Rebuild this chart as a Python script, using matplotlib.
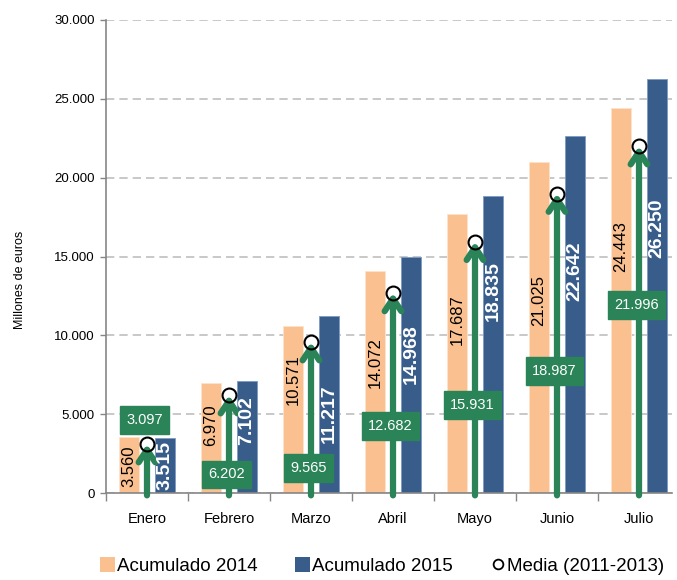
import matplotlib
matplotlib.use("Agg")
import matplotlib.pyplot as plt
from matplotlib.lines import Line2D
from matplotlib.patches import Patch
from matplotlib.ticker import FuncFormatter, FixedLocator
import numpy as np

plt.rcParams['font.family'] = ['Liberation Sans', 'DejaVu Sans']

months = ["Enero", "Febrero", "Marzo", "Abril", "Mayo", "Junio", "Julio"]
acum_2014 = [3560, 6970, 10571, 14072, 17687, 21025, 24443]
acum_2015 = [3515, 7102, 11217, 14968, 18835, 22642, 26250]
media_2011_2013 = [3097, 6202, 9565, 12682, 15931, 18987, 21996]
series_names = ["Acumulado 2014", "Acumulado 2015", "Media (2011-2013)"]

# layout (label placement)
frac_2014 = [0.48, 0.62, 0.68, 0.59, 0.62, 0.58, 0.64]
frac_2015 = [0.50, 0.65, 0.45, 0.59, 0.68, 0.62, 0.64]
box_y = [4630, 1200, 1585, 4250, 5580, 7740, 11920]

c14 = "#FAC090"
c15 = "#385D8A"
green = "#2A8458"

def fmt(v):
    return f"{v:,.0f}".replace(",", ".")

fig = plt.figure(figsize=(6.77, 5.80), dpi=100)
ax = fig.add_axes([106/677, 1-493/580, (672-106)/677, (493-20)/580])

x = np.arange(len(months))
w = 0.245
off = 0.22
ax.bar(x - off, acum_2014, w, color=c14, edgecolor="#FDE3CB", linewidth=0.6, zorder=2)
ax.bar(x + off, acum_2015, w, color=c15, edgecolor="#7D9BC4", linewidth=0.6, zorder=2)

for i in range(len(months)):
    ax.text(x[i] - off, acum_2014[i] * frac_2014[i], fmt(acum_2014[i]), rotation=90,
            ha="center", va="center", fontsize=12, color="black", zorder=5)
    ax.text(x[i] + off, acum_2015[i] * frac_2015[i], fmt(acum_2015[i]), rotation=90,
            ha="center", va="center", fontsize=14, color="white", fontweight="bold", zorder=5)
    ax.annotate("", xy=(x[i], media_2011_2013[i]), xytext=(x[i], -150),
                arrowprops=dict(arrowstyle="->,head_length=0.9,head_width=0.6",
                                color=green, lw=4.5, shrinkA=0, shrinkB=0),
                zorder=3, annotation_clip=False)
    ax.text(x[i] - 0.03, box_y[i], fmt(media_2011_2013[i]), ha="center", va="center",
            fontsize=10.5, color="white", zorder=6,
            bbox=dict(boxstyle="square,pad=0.45", fc=green, ec=green))

ax.plot(x, media_2011_2013, linestyle="none", marker="o", markersize=10,
        markerfacecolor="none", markeredgecolor="black", markeredgewidth=1.5, zorder=7)

ax.set_xlim(-0.5, (672-147)/82)
ax.set_ylim(0, 30000)
ax.set_yticks(np.arange(0, 30001, 5000))
ax.yaxis.set_major_formatter(FuncFormatter(lambda v, p: fmt(v)))
ax.grid(axis="y", linestyle=(0, (5, 3)), color="#BFBFBF", linewidth=1.2, zorder=0)
ax.set_axisbelow(True)
ax.set_xticks(x)
ax.set_xticklabels(months, fontsize=10.5)
ax.xaxis.set_minor_locator(FixedLocator(np.arange(-0.5, 6.6, 1.0)))
ax.tick_params(axis="x", which="major", length=0, pad=14)
ax.tick_params(axis="x", which="minor", length=6, color="#868686", width=1)
ax.tick_params(axis="y", length=4, color="#868686", width=1, labelsize=9.5, pad=4)
for s in ["top", "right"]:
    ax.spines[s].set_visible(False)
for s in ["left", "bottom"]:
    ax.spines[s].set_color("#868686")
    ax.spines[s].set_linewidth(1.2)
ax.set_ylabel("Millones de euros", fontsize=9)
ax.yaxis.set_label_coords(-0.141, 0.45)

handles = [Patch(facecolor=c14, edgecolor="none"),
           Patch(facecolor=c15, edgecolor="none"),
           Line2D([], [], linestyle="none", marker="o", markersize=7,
                  markerfacecolor="none", markeredgecolor="black", markeredgewidth=1.3)]
fig.legend(handles, series_names, loc="center", bbox_to_anchor=(0.565, 0.024), ncol=3,
           frameon=False, fontsize=13.5, handlelength=0.8, handleheight=0.8,
           handletextpad=0.1, columnspacing=2.0, borderaxespad=0, borderpad=0)

fig.savefig("out.png", dpi=100)
